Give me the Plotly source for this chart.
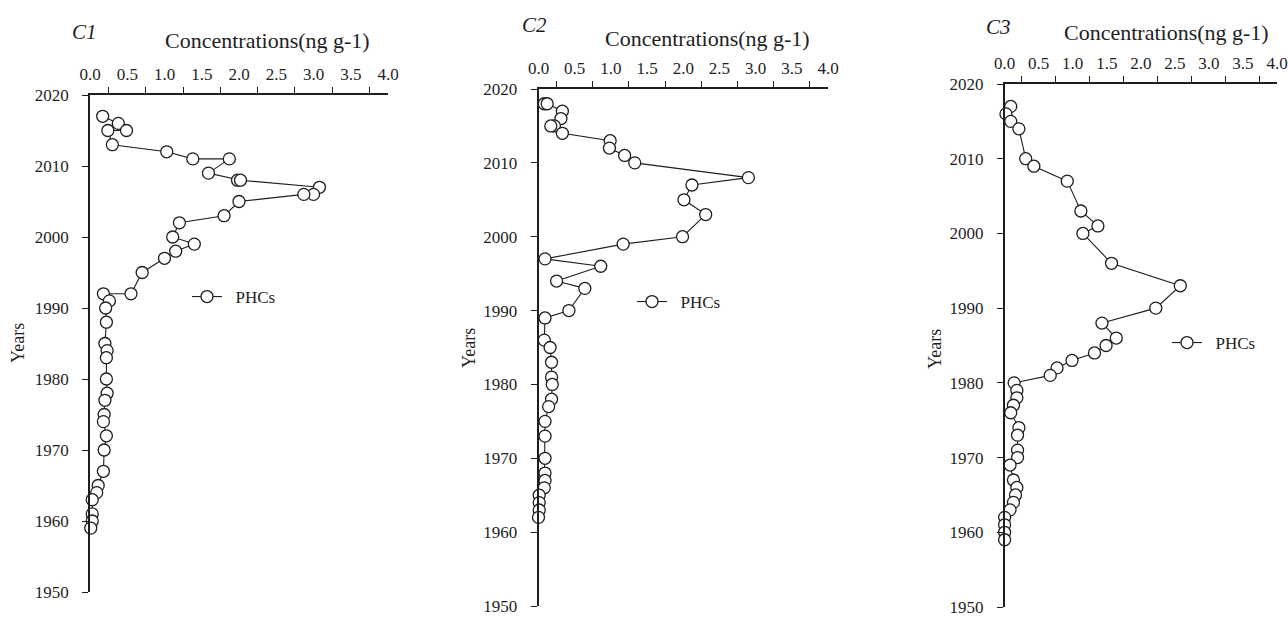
import plotly.graph_objects as go

# ---------------- data ----------------
c1_years = [2017, 2016, 2015, 2015, 2013, 2012, 2011, 2011, 2009, 2008, 2008, 2007, 2006, 2006,
            2005, 2003, 2002, 2000, 1999, 1998, 1997, 1995, 1992, 1992, 1991, 1990, 1988, 1985,
            1984, 1983, 1980, 1978, 1977, 1975, 1974, 1972, 1970, 1967, 1965, 1964, 1963, 1961,
            1960, 1959]
c1_vals = [0.17, 0.38, 0.49, 0.24, 0.30, 1.03, 1.38, 1.87, 1.59, 1.98, 2.02, 3.08, 3.00, 2.87,
           2.00, 1.80, 1.20, 1.11, 1.40, 1.15, 1.00, 0.70, 0.55, 0.18, 0.26, 0.21, 0.22, 0.20,
           0.23, 0.22, 0.22, 0.23, 0.20, 0.19, 0.18, 0.22, 0.19, 0.18, 0.11, 0.09, 0.03, 0.03,
           0.03, 0.01]

c2_years = [2018, 2018, 2017, 2016, 2015, 2015, 2014, 2013, 2012, 2011, 2010, 2008, 2007, 2005,
            2003, 2000, 1999, 1997, 1996, 1994, 1993, 1990, 1989, 1986, 1985, 1983, 1981, 1980,
            1978, 1977, 1975, 1973, 1970, 1968, 1967, 1966, 1965, 1964, 1963, 1962]
c2_vals = [0.08, 0.12, 0.33, 0.31, 0.22, 0.17, 0.33, 0.99, 0.98, 1.19, 1.33, 2.90, 2.12, 2.01,
           2.31, 1.99, 1.17, 0.09, 0.86, 0.25, 0.64, 0.42, 0.09, 0.08, 0.16, 0.18, 0.18, 0.19,
           0.18, 0.14, 0.09, 0.09, 0.09, 0.09, 0.09, 0.08, 0.01, 0.01, 0.01, 0.00]

c3_years = [2017, 2016, 2015, 2014, 2010, 2009, 2007, 2003, 2001, 2000, 1996, 1993, 1990, 1988,
            1986, 1985, 1984, 1983, 1982, 1981, 1980, 1979, 1978, 1977, 1976, 1974, 1973, 1971,
            1970, 1969, 1967, 1966, 1965, 1964, 1963, 1962, 1961, 1960, 1959]
c3_vals = [0.09, 0.02, 0.09, 0.21, 0.31, 0.43, 0.92, 1.12, 1.37, 1.15, 1.57, 2.58, 2.22, 1.43,
           1.64, 1.49, 1.32, 0.99, 0.77, 0.67, 0.14, 0.18, 0.18, 0.13, 0.09, 0.21, 0.19, 0.19,
           0.19, 0.08, 0.13, 0.18, 0.16, 0.13, 0.08, 0.00, 0.00, 0.00, 0.00]

panel_labels = ["C1", "C2", "C3"]
series_name = "PHCs"
x_title = "Concentrations(ng g-1)"
y_title = "Years"
x_tickvals = [0, 0.5, 1.0, 1.5, 2.0, 2.5, 3.0, 3.5, 4.0]
x_ticktext = ["0.0", "0.5", "1.0", "1.5", "2.0", "2.5", "3.0", "3.5", "4.0"]
x_minor_ticks = [0.25, 0.75, 1.25, 1.75, 2.25, 2.75, 3.25, 3.75]
y_tickvals = [1950, 1960, 1970, 1980, 1990, 2000, 2010, 2020]

# ---------------- layout geometry (pixels) ----------------
W, H = 1288, 618
panels = [
    dict(x0=90, x1=388, yt=95, yb=592, title=(267, 40), lab=(84, 32), ylab=(18, 343), leg=(187, 297)),
    dict(x0=538.5, x1=828, yt=89, yb=606, title=(707, 38), lab=(534, 25), ylab=(469, 348), leg=(632, 302)),
    dict(x0=1004.6, x1=1277, yt=84, yb=607, title=(1166, 33), lab=(998, 27), ylab=(935, 349), leg=(1167, 343)),
]
data = [(c1_years, c1_vals), (c2_years, c2_vals), (c3_years, c3_vals)]

INK = "#1e1e1e"
FONT = "'Liberation Serif', 'Times New Roman', 'DejaVu Serif', serif"
NBSP = "\u00a0"

fig = go.Figure()
layout = dict(
    width=W, height=H, margin=dict(l=0, r=0, t=0, b=0, autoexpand=False),
    paper_bgcolor="white", plot_bgcolor="white",
    font=dict(family=FONT, color=INK, size=17),
    showlegend=True,
    annotations=[],
)

for i, (p, (yrs, vals)) in enumerate(zip(panels, data)):
    sfx = "" if i == 0 else str(i + 1)
    leg = "legend" if i == 0 else f"legend{i + 1}"
    fig.add_trace(go.Scatter(
        x=vals, y=yrs, mode="lines+markers", name=NBSP * 2 + series_name, showlegend=True,
        xaxis="x" + sfx, yaxis="y" + sfx, legend=leg, cliponaxis=False,
        line=dict(color=INK, width=1.1),
        marker=dict(symbol="circle", size=12, color="white", line=dict(color=INK, width=1.3)),
    ))
    layout["xaxis" + sfx] = dict(
        domain=[p["x0"] / W, p["x1"] / W], range=[0, 4], side="top", anchor="y" + sfx,
        automargin=False, ticklabeloverflow="allow",
        showline=True, linecolor=INK, linewidth=1.5, showgrid=False, zeroline=False,
        tickmode="array", tickvals=x_tickvals, ticktext=x_ticktext,
        ticks="outside", ticklen=6, tickcolor="rgba(0,0,0,0)",
        minor=dict(tickmode="array", tickvals=x_minor_ticks, ticks="outside", ticklen=6,
                   tickwidth=1.2, tickcolor=INK, showgrid=False),
        tickfont=dict(family=FONT, size=17, color=INK), fixedrange=True,
    )
    layout["yaxis" + sfx] = dict(
        domain=[1 - p["yb"] / H, 1 - p["yt"] / H], range=[1950, 2020], anchor="x" + sfx,
        automargin=False, ticklabeloverflow="allow",
        showline=True, linecolor=INK, linewidth=1.5, showgrid=False, zeroline=False,
        tickmode="array", tickvals=y_tickvals, ticks="outside", ticklen=6, tickwidth=1.2,
        tickcolor=INK, ticklabelstandoff=10,
        tickfont=dict(family=FONT, size=17, color=INK), fixedrange=True,
    )
    layout[leg] = dict(
        x=p["leg"][0] / W, y=1 - p["leg"][1] / H, xanchor="left", yanchor="middle",
        bgcolor="rgba(0,0,0,0)", borderwidth=0, font=dict(family=FONT, size=17, color=INK),
        itemwidth=30, visible=True,
    )
    layout["annotations"] += [
        dict(text=x_title, x=p["title"][0] / W, y=1 - p["title"][1] / H, xref="paper", yref="paper",
             showarrow=False, xanchor="center", yanchor="middle",
             font=dict(family=FONT, size=22, color=INK)),
        dict(text="<i>" + panel_labels[i] + "</i>", x=p["lab"][0] / W, y=1 - p["lab"][1] / H,
             xref="paper", yref="paper", showarrow=False, xanchor="center", yanchor="middle",
             font=dict(family=FONT, size=21, color=INK)),
        dict(text=y_title, x=p["ylab"][0] / W, y=1 - p["ylab"][1] / H, xref="paper", yref="paper",
             showarrow=False, xanchor="center", yanchor="middle", textangle=-90,
             font=dict(family=FONT, size=18, color=INK)),
    ]

fig.update_layout(**layout)
fig.write_html("out.html")
